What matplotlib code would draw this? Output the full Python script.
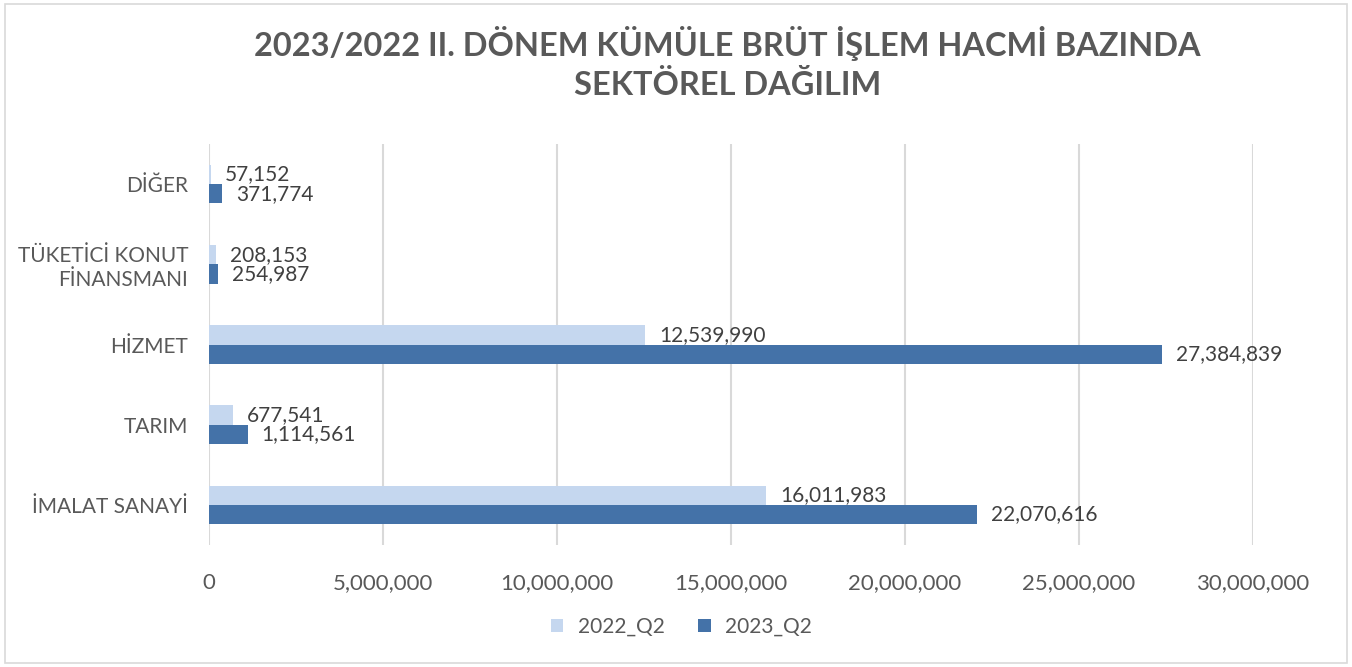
import matplotlib
matplotlib.use("Agg")
import matplotlib.pyplot as plt
from matplotlib.patches import Rectangle
import numpy as np

plt.rcParams['font.family'] = ['Lato', 'DejaVu Sans']

# data (bottom to top, as drawn)
categories = ['İMALAT SANAYİ', 'TARIM', 'HİZMET', 'TÜKETİCİ KONUT\nFİNANSMANI', 'DİĞER']
q2_2022 = [16011983, 677541, 12539990, 208153, 57152]
q2_2023 = [22070616, 1114561, 27384839, 254987, 371774]
series_names = ['2022_Q2', '2023_Q2']
xticks = [0, 5000000, 10000000, 15000000, 20000000, 25000000, 30000000]

light = '#C5D7EF'
dark = '#4472A8'
txt = '#404040'
tick_col = '#595959'

fig = plt.figure(figsize=(13.52, 6.67), dpi=100)
fig.patches.append(Rectangle((0.004, 0.006), 0.992, 0.988, transform=fig.transFigure,
                             fill=False, edgecolor='#D9D9D9', lw=1.2))
ax = fig.add_axes([0.1546, 0.183, 0.772, 0.601])

y = np.arange(len(categories))
h = 0.24
ax.barh(y + h / 2, q2_2022, height=h, color=light, label=series_names[0], zorder=3)
ax.barh(y - h / 2, q2_2023, height=h, color=dark, label=series_names[1], zorder=3)

for i in range(len(categories)):
    ax.annotate(f'{q2_2022[i]:,}', (q2_2022[i], y[i] + h / 2), xytext=(10, 0),
                textcoords='offset points', va='center', ha='left', fontsize=15, color=txt)
    ax.annotate(f'{q2_2023[i]:,}', (q2_2023[i], y[i] - h / 2), xytext=(10, 0),
                textcoords='offset points', va='center', ha='left', fontsize=15, color=txt)

ax.set_xlim(0, 30000000)
ax.set_ylim(-0.5, len(categories) - 0.5)
ax.set_xticks(xticks)
ax.set_xticklabels([f'{v:,}' for v in xticks], fontsize=16, color=tick_col)
ax.set_yticks(y)
ax.set_yticklabels(categories, fontsize=15, color=tick_col)
ax.tick_params(axis='both', length=0)
ax.tick_params(axis='x', pad=20)
ax.tick_params(axis='y', pad=15)
ax.grid(axis='x', color='#D9D9D9', lw=1.5, zorder=0)
for s in ax.spines.values():
    s.set_visible(False)

fig.text(0.538, 0.905, '2023/2022 II. DÖNEM KÜMÜLE BRÜT İŞLEM HACMİ BAZINDA\nSEKTÖREL DAĞILIM',
         ha='center', va='center', fontsize=23.4, fontweight='bold', color=tick_col,
         linespacing=1.35)

fig.legend(loc='center', bbox_to_anchor=(0.504, 0.06), ncol=2, frameon=False,
           fontsize=15, labelcolor=tick_col, handlelength=0.6, handleheight=0.6,
           columnspacing=1.6, handletextpad=0.7)

fig.savefig('out.png', dpi=100)
